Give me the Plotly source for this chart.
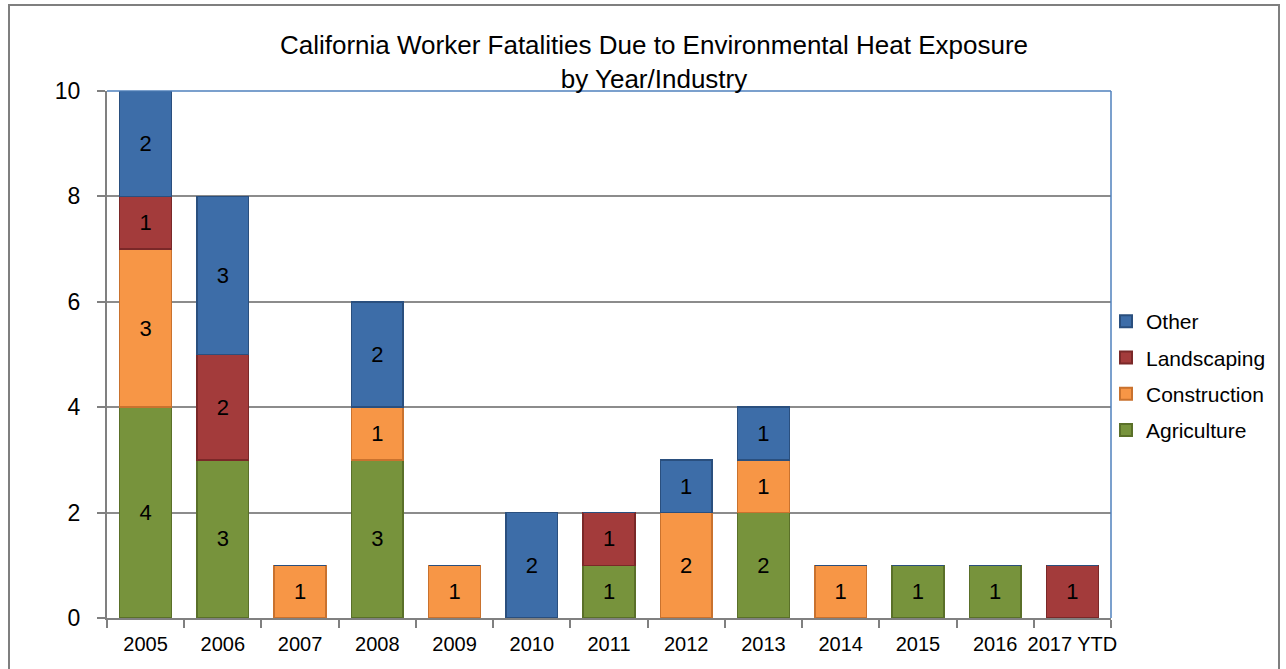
import plotly.graph_objects as go

# ------------------------------------------------
# Data
# ------------------------------------------------
years = ["2005", "2006", "2007", "2008", "2009", "2010", "2011",
         "2012", "2013", "2014", "2015", "2016", "2017 YTD"]

agriculture = [4, 3, 0, 3, 0, 0, 1, 0, 2, 0, 1, 1, 0]
construction = [3, 0, 1, 1, 1, 0, 0, 2, 1, 1, 0, 0, 0]
landscaping = [1, 2, 0, 0, 0, 0, 1, 0, 0, 0, 0, 0, 1]
other = [2, 3, 0, 2, 0, 2, 0, 1, 1, 0, 0, 0, 0]

y_ticks = [0, 2, 4, 6, 8, 10]

# name, values, fill, edge, legend rank (Other listed on top)
series = [
    ("Agriculture", agriculture, "#77933C", "#5A7029", 4),
    ("Construction", construction, "#F79646", "#C9722E", 3),
    ("Landscaping", landscaping, "#A33B3B", "#7A2828", 2),
    ("Other", other, "#3D6DA8", "#2A4F7E", 1),
]

FONT = "Liberation Sans, Arial, sans-serif"

fig = go.Figure()
for name, vals, color, edge, rank in series:
    fig.add_trace(go.Bar(
        x=years,
        y=vals,
        name=name,
        legendgroup=name,
        legendrank=rank,
        marker=dict(color=color, line=dict(color=edge, width=1.5)),
        text=[str(v) if v else "" for v in vals],
        textposition="inside",
        insidetextanchor="middle",
        textangle=0,
        textfont=dict(color="black", size=22, family=FONT),
        constraintext="none",
        hoverinfo="x+y+name",
    ))

# plot area geometry (pixels, page has no body margin)
W, H = 1286, 669
L, T = 107, 91
pw, ph = 1111 - 107, 618 - 91
R, B = W - L - pw, H - T - ph

def px_x(x):
    return (x - L) / pw

def px_y(y):
    return (H - B - y) / ph

fig.update_layout(
    barmode="stack",
    bargap=0.33,
    width=W,
    height=H,
    margin=dict(l=L, r=R, t=T, b=B, autoexpand=False),
    paper_bgcolor="white",
    plot_bgcolor="white",
    font=dict(family=FONT, color="black"),
    title=dict(
        text="California Worker Fatalities Due to Environmental Heat Exposure<br>by Year/Industry",
        x=654 / W,
        xanchor="center",
        y=1 - 54 / H,
        yanchor="top",
        font=dict(size=26, family=FONT, color="black"),
        automargin=False,
    ),
    legend=dict(
        traceorder="grouped",
        x=px_x(1106),
        xanchor="left",
        y=px_y(301),
        yanchor="top",
        font=dict(size=21, family=FONT),
        itemsizing="constant",
        tracegroupgap=6,
        bgcolor="rgba(0,0,0,0)",
    ),
    showlegend=True,
)

fig.update_xaxes(
    type="category",
    automargin=False,
    tickangle=0,
    showline=True,
    linecolor="#808080",
    linewidth=2,
    ticks="outside",
    tickson="boundaries",
    ticklen=8,
    tickwidth=2,
    tickcolor="#808080",
    ticklabelstandoff=7,
    tickfont=dict(size=20, family=FONT),
    showgrid=False,
)

fig.update_yaxes(
    range=[0, 10],
    automargin=False,
    tickvals=y_ticks,
    showline=True,
    linecolor="#808080",
    linewidth=2,
    ticks="outside",
    ticklen=8,
    tickwidth=2,
    tickcolor="#808080",
    ticklabelstandoff=12,
    tickfont=dict(size=23, family=FONT),
    showgrid=True,
    gridcolor="#8C8C8C",
    gridwidth=1.5,
    zeroline=False,
)

# blue top / right border of the plot area
fig.add_shape(type="line", xref="paper", yref="paper", x0=0, x1=1, y0=1, y1=1,
              line=dict(color="#4F81BD", width=1.5), layer="above")
fig.add_shape(type="line", xref="paper", yref="paper", x0=1, x1=1, y0=0, y1=1,
              line=dict(color="#4F81BD", width=1.5), layer="above")

# outer chart frame
fig.add_shape(type="rect", xref="paper", yref="paper",
              x0=px_x(9), x1=px_x(1279), y0=px_y(700), y1=px_y(5),
              line=dict(color="#7F7F7F", width=2), layer="below")

fig.write_html("out.html", config={"displayModeBar": False},
               post_script="document.body.style.margin='0';")
